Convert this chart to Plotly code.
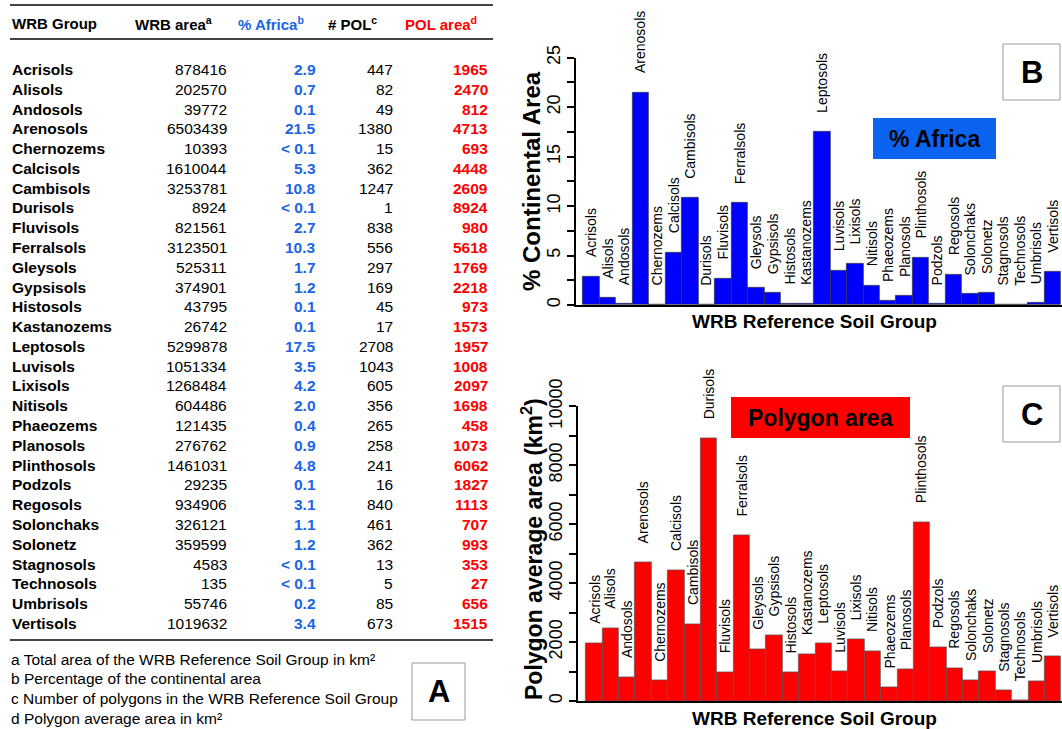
import plotly.graph_objects as go

# ---------------- data ----------------
groups = ["Acrisols", "Alisols", "Andosols", "Arenosols", "Chernozems", "Calcisols",
          "Cambisols", "Durisols", "Fluvisols", "Ferralsols", "Gleysols", "Gypsisols",
          "Histosols", "Kastanozems", "Leptosols", "Luvisols", "Lixisols", "Nitisols",
          "Phaeozems", "Planosols", "Plinthosols", "Podzols", "Regosols", "Solonchaks",
          "Solonetz", "Stagnosols", "Technosols", "Umbrisols", "Vertisols"]
wrb_area = [878416, 202570, 39772, 6503439, 10393, 1610044, 3253781, 8924, 821561,
            3123501, 525311, 374901, 43795, 26742, 5299878, 1051334, 1268484, 604486,
            121435, 276762, 1461031, 29235, 934906, 326121, 359599, 4583, 135, 55746,
            1019632]
africa_pct_text = ["2.9", "0.7", "0.1", "21.5", "< 0.1", "5.3", "10.8", "< 0.1", "2.7",
                   "10.3", "1.7", "1.2", "0.1", "0.1", "17.5", "3.5", "4.2", "2.0", "0.4",
                   "0.9", "4.8", "0.1", "3.1", "1.1", "1.2", "< 0.1", "< 0.1", "0.2", "3.4"]
africa_pct = [2.9, 0.7, 0.1, 21.5, 0.03, 5.3, 10.8, 0.03, 2.7, 10.3, 1.7, 1.2, 0.1, 0.1,
              17.5, 3.5, 4.2, 2.0, 0.4, 0.9, 4.8, 0.1, 3.1, 1.1, 1.2, 0.02, 0.0, 0.2, 3.4]
n_pol = [447, 82, 49, 1380, 15, 362, 1247, 1, 838, 556, 297, 169, 45, 17, 2708, 1043,
         605, 356, 265, 258, 241, 16, 840, 461, 362, 13, 5, 85, 673]
pol_area = [1965, 2470, 812, 4713, 693, 4448, 2609, 8924, 980, 5618, 1769, 2218, 973,
            1573, 1957, 1008, 2097, 1698, 458, 1073, 6062, 1827, 1113, 707, 993, 353, 27,
            656, 1515]

headers = ["WRB Group", "WRB area<sup>a</sup>", "% Africa<sup>b</sup>",
           "# POL<sup>c</sup>", "POL area<sup>d</sup>"]
footnotes = ["a Total area of the WRB Reference Soil Group in km²",
             "b Percentage of the continental area",
             "c Number of polygons in the WRB Reference Soil Group",
             "d Polygon average area in km²"]

# ---------------- layout helpers ----------------
W, H = 1062, 729
FONT = "Liberation Sans, Arial, sans-serif"
BLUE_TXT = "#1a64e6"
RED = "#ff0000"


def px(x):
    return x / W


def py(y):
    return 1 - y / H


fig = go.Figure()

fig.add_trace(go.Bar(x=groups, y=africa_pct, xaxis="x", yaxis="y", width=1,
                     marker=dict(color="#0000ff", line=dict(color="#333333", width=0.7)),
                     hoverinfo="x+y"))
fig.add_trace(go.Bar(x=groups, y=pol_area, xaxis="x2", yaxis="y2", width=1,
                     marker=dict(color="#ff0000", line=dict(color="#555555", width=0.7)),
                     hoverinfo="x+y"))

ann = []
shapes = []

# bar labels
for g, v in zip(groups, africa_pct):
    ann.append(dict(x=g, y=v, xref="x", yref="y", text=g, textangle=-90, showarrow=False,
                    yanchor="bottom", xanchor="center", yshift=17,
                    font=dict(family=FONT, size=14, color="black")))
for g, v in zip(groups, pol_area):
    ann.append(dict(x=g, y=v, xref="x2", yref="y2", text=g, textangle=-90, showarrow=False,
                    yanchor="bottom", xanchor="center", yshift=17,
                    font=dict(family=FONT, size=14, color="black")))

# axis titles
ann.append(dict(x=px(532), y=py(181), xref="paper", yref="paper", text="<b>% Continental Area</b>",
                textangle=-90, showarrow=False, xanchor="center", yanchor="middle",
                font=dict(family=FONT, size=24, color="black")))
ann.append(dict(x=px(532), y=py(549), xref="paper", yref="paper",
                text="<b>Polygon average area (km<sup>2</sup>)</b>",
                textangle=-90, showarrow=False, xanchor="center", yanchor="middle",
                font=dict(family=FONT, size=23, color="black")))
ann.append(dict(x=px(814), y=py(321), xref="paper", yref="paper", text="<b>WRB Reference Soil Group</b>",
                showarrow=False, xanchor="center", yanchor="middle",
                font=dict(family=FONT, size=19, color="black")))
ann.append(dict(x=px(814), y=py(718), xref="paper", yref="paper", text="<b>WRB Reference Soil Group</b>",
                showarrow=False, xanchor="center", yanchor="middle",
                font=dict(family=FONT, size=19, color="black")))

# coloured legend boxes
shapes.append(dict(type="rect", xref="paper", yref="paper", x0=px(873), x1=px(996),
                   y0=py(159), y1=py(118), fillcolor="#0a64f0", line=dict(width=0),
                   layer="below"))
ann.append(dict(x=px(934), y=py(139), xref="paper", yref="paper", text="<b>% Africa</b>",
                showarrow=False, xanchor="center", yanchor="middle",
                font=dict(family=FONT, size=23, color="black")))
shapes.append(dict(type="rect", xref="paper", yref="paper", x0=px(731), x1=px(910),
                   y0=py(438), y1=py(397), fillcolor="#ff0000", line=dict(width=0),
                   layer="below"))
ann.append(dict(x=px(820), y=py(418), xref="paper", yref="paper", text="<b>Polygon area</b>",
                showarrow=False, xanchor="center", yanchor="middle",
                font=dict(family=FONT, size=23, color="black")))

# panel letter boxes
for letter, (x0, y0, x1, y1) in {"B": (1003, 44, 1060, 100), "C": (1003, 386, 1060, 442),
                                 "A": (412, 663, 465, 720)}.items():
    shapes.append(dict(type="rect", xref="paper", yref="paper", x0=px(x0), x1=px(x1),
                       y0=py(y1), y1=py(y0), fillcolor="white",
                       line=dict(color="#999999", width=1)))
    ann.append(dict(x=px((x0 + x1) / 2), y=py((y0 + y1) / 2), xref="paper", yref="paper",
                    text=f"<b>{letter}</b>", showarrow=False, xanchor="center",
                    yanchor="middle", font=dict(family=FONT, size=31, color="black")))

# table rules
for yy, lw in [(5, 2), (39, 2), (640, 2)]:
    shapes.append(dict(type="line", xref="paper", yref="paper", x0=px(10), x1=px(493),
                       y0=py(yy), y1=py(yy), line=dict(color="#444444", width=lw)))

# table header
head_x = [10, 133, 236, 326, 403]
head_col = ["black", "black", BLUE_TXT, "black", RED]
for hx, txt, c in zip(head_x, headers, head_col):
    ann.append(dict(x=px(hx), y=py(23), xref="paper", yref="paper", text=f"<b>{txt}</b>",
                    xanchor="left", yanchor="middle", showarrow=False,
                    font=dict(family=FONT, size=15, color=c)))

# table body
row0, dy = 69.5, 19.78
for i, g in enumerate(groups):
    yy = py(row0 + i * dy)
    cells = [
        (10, "left", f"<b>{g}</b>", "black"),
        (229, "right", f"{wrb_area[i]}", "black"),
        (318, "right", f"<b>{africa_pct_text[i]}</b>", BLUE_TXT),
        (395, "right", f"{n_pol[i]}", "black"),
        (490, "right", f"<b>{pol_area[i]}</b>", RED),
    ]
    for cx, anc, txt, c in cells:
        ann.append(dict(x=px(cx), y=yy, xref="paper", yref="paper", text=txt, xanchor=anc,
                        yanchor="middle", showarrow=False,
                        font=dict(family=FONT, size=15.5, color=c)))

# footnotes
for k, t in enumerate(footnotes):
    ann.append(dict(x=px(9), y=py(659 + k * 19.8), xref="paper", yref="paper", text=t,
                    xanchor="left", yanchor="middle", showarrow=False,
                    font=dict(family=FONT, size=15.5, color="black")))

axis_common = dict(showgrid=False, zeroline=False, showline=True, linecolor="black",
                   linewidth=1.5, automargin=False)
yaxis_common = dict(axis_common, ticks="outside", ticklen=7, tickwidth=1.5, tickcolor="black",
                    tickangle=-90, tickformat="d",
                    tickfont=dict(family=FONT, size=18, color="black"))

fig.update_layout(
    template="none",
    width=W, height=H,
    autosize=False,
    margin=dict(l=0, r=0, t=0, b=0, pad=0, autoexpand=False),
    paper_bgcolor="white", plot_bgcolor="rgba(0,0,0,0)",
    showlegend=False, bargap=0,
    font=dict(family=FONT, color="black"),
    xaxis=dict(axis_common, domain=[px(575.7), 1.0], type="category",
               range=[-0.943, 28.56], showticklabels=False, ticks=""),
    yaxis=dict(yaxis_common, domain=[py(305), py(57.7)], range=[0, 25], dtick=5,
               minor=dict(dtick=2.5, ticks="outside", ticklen=7, tickwidth=1.5,
                          tickcolor="black")),
    xaxis2=dict(axis_common, domain=[px(577.7), 1.0], type="category",
                range=[-1.007, 28.56], showticklabels=False, ticks="", anchor="y2"),
    yaxis2=dict(yaxis_common, domain=[py(701), py(406.3)], range=[0, 10000], dtick=2000,
                anchor="x2",
                minor=dict(dtick=1000, ticks="outside", ticklen=7, tickwidth=1.5,
                           tickcolor="black")),
    annotations=ann,
    shapes=shapes,
)

fig.write_html("out.html", config={"displayModeBar": False},
               post_script="document.body.style.margin='0px';document.body.style.overflow='hidden';")
